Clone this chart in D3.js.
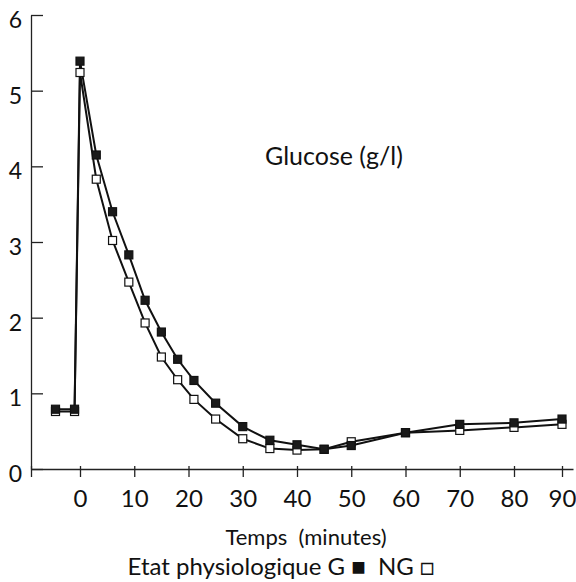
<!DOCTYPE html>
<html>
<head>
<meta charset="utf-8">
<script src="https://cdn.jsdelivr.net/npm/d3@7"></script>
<style>
  html, body { margin: 0; padding: 0; background: #fff; }
  svg { display: block; }
  text { font-family: Lato, "Open Sans", sans-serif; fill: #111; }
</style>
</head>
<body>
<svg id="chart" width="576" height="582"></svg>
<script>
const times = [-4.5, -1, 0, 3, 6, 9, 12, 15, 18, 21, 25, 30, 35, 40, 45, 50, 60, 70, 80, 90];
const seriesG = [0.79, 0.79, 5.39, 4.15, 3.40, 2.83, 2.23, 1.81, 1.45, 1.17, 0.87, 0.56, 0.38, 0.32, 0.26, 0.31, 0.48, 0.59, 0.61, 0.66];
const seriesNG = [0.76, 0.76, 5.24, 3.83, 3.02, 2.47, 1.93, 1.48, 1.18, 0.92, 0.66, 0.40, 0.27, 0.25, 0.26, 0.36, 0.48, 0.51, 0.55, 0.59];
const xTicks = [0, 10, 20, 30, 40, 50, 60, 70, 80, 90];
const yTicks = [0, 1, 2, 3, 4, 5, 6];
const chartLabel = "Glucose (g/l)";
const xTitle = "Temps  (minutes)";
const legendText = "Etat physiologique G \u25A0  NG \u25A1";

const svg = d3.select("#chart");

const x = d3.scaleLinear().domain([-9, 0, 80, 90, 92]).range([31, 80, 514, 562, 573]);
const y = d3.scaleLinear().domain([0, 6]).range([469, 15]);

// Y axis
const yAxis = svg.append("g").attr("transform", "translate(31,0)")
  .call(d3.axisLeft(y).tickValues(yTicks).tickFormat(d3.format("d"))
    .tickSizeInner(-12).tickSizeOuter(0).tickPadding(9));
yAxis.select(".domain").attr("stroke", "#222").attr("stroke-width", 1.3);
yAxis.selectAll(".tick line").attr("stroke", "#222").attr("stroke-width", 1.3);
yAxis.selectAll(".tick text").attr("font-size", 23).attr("dy", "0.55em");

// X axis
const xAxis = svg.append("g").attr("transform", "translate(0,469)")
  .call(d3.axisBottom(x).tickValues([-9].concat(xTicks)).tickFormat(d => d < 0 ? "" : d)
    .tickSizeInner(8).tickSizeOuter(0));
xAxis.select(".domain").attr("stroke", "#222").attr("stroke-width", 1.3);
xAxis.selectAll(".tick line").attr("stroke", "#222").attr("stroke-width", 1.3).attr("y1", -3);
xAxis.selectAll(".tick text").attr("font-size", 24).attr("y", 38).attr("dy", null);

// Lines
const line = d3.line().x((d, i) => x(times[i])).y(d => y(d));
svg.append("path").datum(seriesNG).attr("d", line).attr("fill", "none")
  .attr("stroke", "#111").attr("stroke-width", 2);
svg.append("path").datum(seriesG).attr("d", line).attr("fill", "none")
  .attr("stroke", "#111").attr("stroke-width", 2);

const s = 8;
svg.append("g").selectAll("rect").data(seriesNG).join("rect")
  .attr("x", (d, i) => x(times[i]) - s / 2).attr("y", d => y(d) - s / 2)
  .attr("width", s).attr("height", s)
  .attr("fill", "#fff").attr("stroke", "#111").attr("stroke-width", 1.2);
svg.append("g").selectAll("rect").data(seriesG).join("rect")
  .attr("x", (d, i) => x(times[i]) - s / 2).attr("y", d => y(d) - s / 2)
  .attr("width", s).attr("height", s)
  .attr("fill", "#1a1a1a").attr("stroke", "#111").attr("stroke-width", 1.2);

// Labels
svg.append("text").attr("x", 334).attr("y", 165).attr("text-anchor", "middle")
  .attr("font-size", 25).text(chartLabel);
svg.append("text").attr("x", 306).attr("y", 545).attr("text-anchor", "middle")
  .attr("xml:space", "preserve").style("white-space", "pre")
  .attr("font-size", 22).text(xTitle);
svg.append("text").attr("x", 281).attr("y", 575).attr("text-anchor", "middle")
  .attr("xml:space", "preserve").style("white-space", "pre")
  .attr("font-size", 24).text(legendText);
</script>
</body>
</html>
